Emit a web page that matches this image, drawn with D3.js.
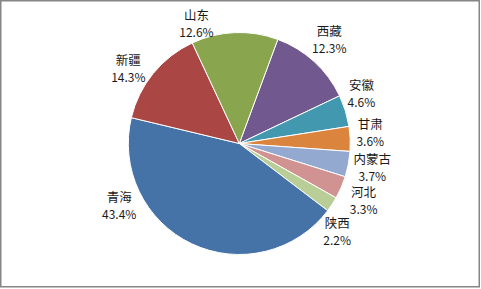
<!DOCTYPE html>
<html>
<head>
<meta charset="utf-8">
<script src="https://cdn.jsdelivr.net/npm/d3@7"></script>
<style>
  html, body { margin: 0; padding: 0; background: #fff; }
  svg { display: block; }
  text { font-family: "Noto Sans CJK SC", "Noto Sans", sans-serif; fill: #1a1a1a; }
</style>
</head>
<body>
<svg id="chart" width="481" height="289"></svg>
<script>
// Share of total by province, in drawing order (clockwise)
const regions = ["西藏", "安徽", "甘肃", "内蒙古", "河北", "陕西", "青海", "新疆", "山东"];
const shares  = [12.3, 4.6, 3.6, 3.7, 3.3, 2.2, 43.4, 14.3, 12.6];
const colors  = ["#71588F", "#4198AF", "#DB843D", "#93A9CF", "#D19392", "#B9CD96", "#4572A7", "#AA4643", "#89A54E"];

const W = 481, H = 289;
const cx = 239.3, cy = 143.5, R = 111;
const firstSliceDeg = 20.3;

// Label placement: each label sits along its slice's mid-angle (nudged a little where
// neighbouring labels would collide) at a distance just outside the rim
const labelAngleNudge = { "西藏": -1.3, "安徽": -4.9, "甘肃": -2.1, "内蒙古": -0.4, "河北": 1.5,
                          "陕西": 8.8, "青海": 37, "新疆": -5.2, "山东": -17.4 };
const labelRadius = { "西藏": 136.8, "安徽": 131.7, "甘肃": 131.4, "内蒙古": 135.2, "河北": 137,
                      "陕西": 131.8, "青海": 135.6, "新疆": 133.8, "山东": 126.7 };

const svg = d3.select("#chart");

// Chart frame
svg.append("rect")
  .attr("x", 0.75).attr("y", 0.75)
  .attr("width", W - 2.5).attr("height", H - 3)
  .attr("fill", "#fff")
  .attr("stroke", "#868686")
  .attr("stroke-width", 1.5);

const data = regions.map((r, i) => ({ region: r, share: shares[i], color: colors[i] }));

const pie = d3.pie()
  .value(d => d.share)
  .sort(null)
  .startAngle(firstSliceDeg * Math.PI / 180)
  .endAngle(firstSliceDeg * Math.PI / 180 + 2 * Math.PI);

const arc = d3.arc().innerRadius(0).outerRadius(R);
const arcs = pie(data);

const g = svg.append("g").attr("transform", `translate(${cx},${cy})`);

g.selectAll("path.slice")
  .data(arcs)
  .join("path")
  .attr("class", "slice")
  .attr("d", arc)
  .attr("fill", d => d.data.color)
  .attr("stroke", "#fff")
  .attr("stroke-width", 1);

const labels = g.selectAll("g.label")
  .data(arcs)
  .join("g")
  .attr("class", "label")
  .attr("transform", d => {
    const name = d.data.region;
    const mid = (d.startAngle + d.endAngle) / 2 + (labelAngleNudge[name] || 0) * Math.PI / 180;
    const rr = labelRadius[name] || 134;
    return `translate(${Math.sin(mid) * rr},${-Math.cos(mid) * rr})`;
  });

labels.append("text")
  .attr("text-anchor", "middle")
  .attr("y", -4)
  .attr("font-size", 12.5)
  .text(d => d.data.region);

labels.append("text")
  .attr("text-anchor", "middle")
  .attr("y", 13)
  .attr("font-size", 12)
  .text(d => d.data.share.toFixed(1) + "%");
</script>
</body>
</html>
